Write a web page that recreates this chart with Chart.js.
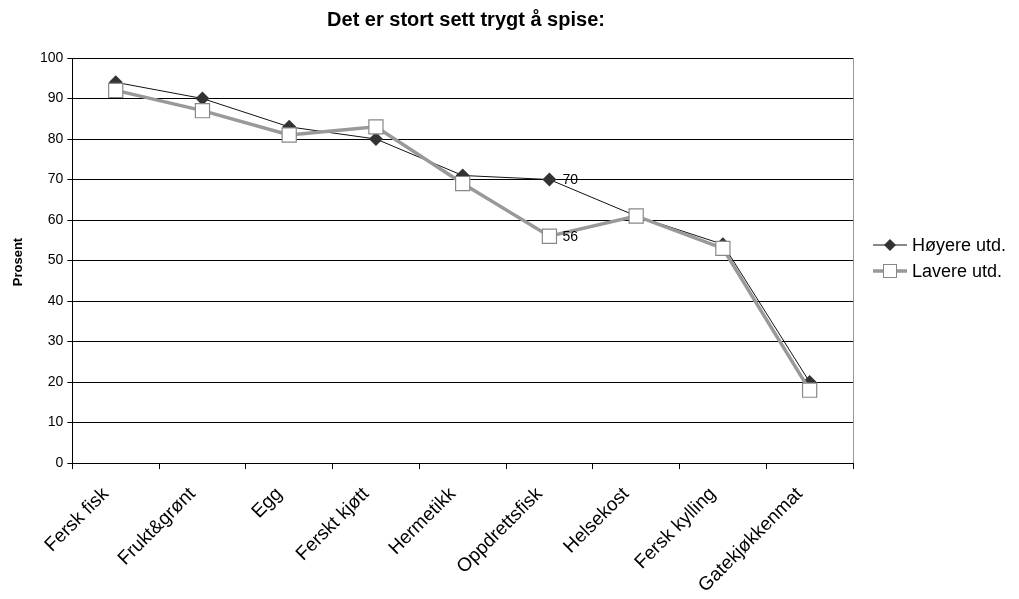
<!DOCTYPE html>
<html>
<head>
<meta charset="utf-8">
<script src="https://cdn.jsdelivr.net/npm/chart.js@4.4.1/dist/chart.umd.min.js"></script>
<style>
  html, body { margin: 0; padding: 0; background: #fff; }
  #wrap { width: 1019px; height: 599px; position: relative; }
</style>
</head>
<body>
<div id="wrap"><canvas id="chart"></canvas></div>
<script>
// Data
const categories = ['Fersk fisk', 'Frukt&grønt', 'Egg', 'Ferskt kjøtt', 'Hermetikk', 'Oppdrettsfisk', 'Helsekost', 'Fersk kylling', 'Gatekjøkkenmat'];
const hoyereUtd = [94, 90, 83, 80, 71, 70, 61, 54, 20];
const lavereUtd = [92, 87, 81, 83, 69, 56, 61, 53, 18];
const seriesNames = ['Høyere utd.', 'Lavere utd.'];
const labelIndex = 5; // Oppdrettsfisk gets value labels

const fontFamily = "'Liberation Sans', Arial, sans-serif";

// titles, value labels, right border and legend
const extras = {
    id: 'extras',
    afterDraw(chart) {
        const c = chart.ctx;
        const area = chart.chartArea;
        c.save();

        // right border of plot area
        c.strokeStyle = '#999';
        c.lineWidth = 1;
        c.beginPath();
        c.moveTo(area.right + 0.5, area.top);
        c.lineTo(area.right + 0.5, area.bottom);
        c.stroke();

        // title
        c.fillStyle = '#000';
        c.font = 'bold 20px ' + fontFamily;
        c.textAlign = 'center';
        c.textBaseline = 'middle';
        c.fillText('Det er stort sett trygt å spise:', 466, 20);

        // y title
        c.save();
        c.translate(18, 262);
        c.rotate(-Math.PI / 2);
        c.font = 'bold 13px ' + fontFamily;
        c.fillText('Prosent', 0, 0);
        c.restore();

        // value labels
        c.font = '14px ' + fontFamily;
        c.textAlign = 'left';
        chart.data.datasets.forEach((ds, i) => {
            const pt = chart.getDatasetMeta(i).data[labelIndex];
            c.fillText(String(ds.data[labelIndex]), pt.x + 13, pt.y + 1);
        });

        // legend
        const lx = 873, ly = [245, 271];
        chart.data.datasets.forEach((ds, i) => {
            const y = ly[i];
            c.strokeStyle = ds.borderColor;
            c.lineWidth = ds.borderWidth;
            c.beginPath();
            c.moveTo(lx, y);
            c.lineTo(lx + 34, y);
            c.stroke();
            const cx = lx + 17;
            if (i === 0) {
                c.fillStyle = '#333';
                c.beginPath();
                c.moveTo(cx, y - 6);
                c.lineTo(cx + 6, y);
                c.lineTo(cx, y + 6);
                c.lineTo(cx - 6, y);
                c.closePath();
                c.fill();
            } else {
                c.fillStyle = '#fff';
                c.strokeStyle = '#888';
                c.lineWidth = 1;
                c.fillRect(cx - 6.5, y - 6.5, 13, 13);
                c.strokeRect(cx - 6.5, y - 6.5, 13, 13);
            }
            c.fillStyle = '#000';
            c.font = '18px ' + fontFamily;
            c.textAlign = 'left';
            c.fillText(ds.label, lx + 39, y + 1);
        });

        c.restore();
    }
};

new Chart(document.getElementById('chart'), {
    type: 'line',
    data: {
        labels: categories,
        datasets: [
            {
                label: seriesNames[0],
                data: hoyereUtd,
                borderColor: '#111',
                borderWidth: 1,
                pointStyle: 'rectRot',
                pointRadius: 7,
                pointBackgroundColor: '#333',
                pointBorderColor: '#333',
                pointBorderWidth: 0,
                tension: 0,
                order: 2
            },
            {
                label: seriesNames[1],
                data: lavereUtd,
                borderColor: '#999',
                borderWidth: 3.5,
                pointStyle: 'rect',
                pointRadius: 10,
                pointBackgroundColor: '#fff',
                pointBorderColor: '#888',
                pointBorderWidth: 1.2,
                tension: 0,
                order: 1
            }
        ]
    },
    options: {
        responsive: true,
        maintainAspectRatio: false,
        animation: false,
        layout: { padding: { left: 36, right: 166, top: 58, bottom: -12 } },
        plugins: {
            legend: { display: false },
            title: { display: false },
            tooltip: { enabled: false }
        },
        scales: {
            y: {
                min: 0,
                max: 100,
                ticks: {
                    stepSize: 10,
                    color: '#000',
                    font: { size: 14, family: fontFamily },
                    padding: 4
                },
                grid: { color: '#000', tickLength: 5, tickColor: '#000' },
                border: { color: '#000' }
            },
            x: {
                offset: true,
                ticks: {
                    color: '#000',
                    font: { size: 19, family: fontFamily },
                    maxRotation: 45,
                    minRotation: 45,
                    padding: 14,
                    labelOffset: -10
                },
                grid: { offset: true, drawOnChartArea: false, tickLength: 6, color: '#000' },
                border: { color: '#000' }
            }
        }
    },
    plugins: [extras]
});
</script>
</body>
</html>
